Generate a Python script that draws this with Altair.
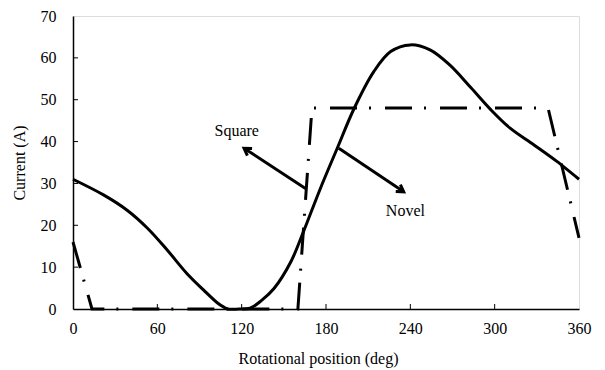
import altair as alt
import pandas as pd

# Novel current waveform (deg, A)
novel_deg = [0, 22, 38.5, 53, 67, 81, 93, 102.6, 107, 110, 118, 126, 134, 143, 155, 164, 176, 188, 200, 214, 226, 240,
             254, 268, 283, 297, 311, 328, 344.5, 360]
novel_amp = [31.0, 27.2, 23.6, 19.3, 14.1, 8.5, 4.5, 1.5, 0.5, 0.0, 0.0, 0.2, 2.0, 4.9, 11.3, 18.5, 28.8, 38.4, 47.9,
             56.7, 61.5, 63.1, 61.9, 58.3, 52.9, 47.7, 43.2, 39.2, 35.2, 31.0]

# Square current waveform (deg, A)
square_deg = [0, 13.5, 160, 170, 338, 360]
square_amp = [16.0, 0.0, 0.0, 48.0, 48.0, 17.0]

# Annotations: label, text position, arrow tail, arrow tip
ann_label = ["Square", "Novel"]
ann_text_deg = [116.5, 236.5]
ann_text_amp = [42.5, 23.4]
ann_tail_deg = [165.4, 189.1]
ann_tail_amp = [28.8, 38.4]
ann_tip_deg = [121.7, 235.3]
ann_tip_amp = [38.4, 28.0]
ann_angle = [213.7, 33.7]

x_ticks = [0, 60, 120, 180, 240, 300, 360]
y_ticks = [0, 10, 20, 30, 40, 50, 60, 70]

FONT = "Liberation Serif"
W, H = 506, 293

novel_df = pd.DataFrame({"deg": novel_deg, "amp": novel_amp})
square_df = pd.DataFrame({"deg": square_deg, "amp": square_amp})
ann_df = pd.DataFrame({
    "label": ann_label, "tx": ann_text_deg, "ty": ann_text_amp,
    "x0": ann_tail_deg, "y0": ann_tail_amp, "x1": ann_tip_deg, "y1": ann_tip_amp,
    "angle": ann_angle,
})
xt_df = pd.DataFrame({"v": x_ticks[1:-1]})
yt_df = pd.DataFrame({"v": y_ticks[1:-1]})

xscale = alt.Scale(domain=[0, 360], nice=False, zero=False)
yscale = alt.Scale(domain=[0, 70], nice=False)

x_axis = alt.Axis(values=x_ticks, title="Rotational position (deg)", grid=False, ticks=False, tickSize=0,
                  domain=True, domainColor="black", domainWidth=1.5, labelFlush=False, labelOverlap=False,
                  labelFont=FONT, labelFontSize=16, labelColor="black", labelPadding=11,
                  titleFont=FONT, titleFontSize=16, titleFontWeight="normal", titleColor="black",
                  titlePadding=14, titleX=245)
y_axis = alt.Axis(values=y_ticks, title="Current (A)", grid=False, ticks=False, tickSize=0,
                  domain=True, domainColor="black", domainWidth=1.5, labelFlush=False, labelOverlap=False,
                  labelFont=FONT, labelFontSize=16, labelColor="black", labelPadding=17,
                  titleFont=FONT, titleFontSize=16, titleFontWeight="normal", titleColor="black",
                  titlePadding=13)

novel = alt.Chart(novel_df).mark_line(color="black", strokeWidth=3, interpolate="catmull-rom").encode(
    x=alt.X("deg:Q", scale=xscale, axis=x_axis),
    y=alt.Y("amp:Q", scale=yscale, axis=y_axis),
)

square = alt.Chart(square_df).mark_line(color="black", strokeWidth=3, strokeDash=[27, 12, 2, 14],
                                        strokeCap="butt").encode(
    x=alt.X("deg:Q", scale=xscale),
    y=alt.Y("amp:Q", scale=yscale),
)

xticks = alt.Chart(xt_df).mark_rule(color="black", strokeWidth=1).encode(
    x=alt.X("v:Q", scale=xscale), y=alt.value(H), y2=alt.value(H - 5)
)
yticks = alt.Chart(yt_df).mark_rule(color="black", strokeWidth=1).encode(
    y=alt.Y("v:Q", scale=yscale), x=alt.value(0), x2=alt.value(5)
)

shafts = alt.Chart(ann_df).mark_rule(color="black", strokeWidth=3).encode(
    x=alt.X("x0:Q", scale=xscale), y=alt.Y("y0:Q", scale=yscale),
    x2="x1:Q", y2="y1:Q",
)
heads = alt.Chart(ann_df).mark_point(
    shape="M -1.3 -0.8 L 0 0 L -1.3 0.8", filled=False, color="black", strokeWidth=3, size=110,
    opacity=1, strokeJoin="miter",
).encode(
    x=alt.X("x1:Q", scale=xscale), y=alt.Y("y1:Q", scale=yscale), angle=alt.Angle("angle:Q", scale=None)
)
labels = alt.Chart(ann_df).mark_text(font=FONT, fontSize=16, color="black").encode(
    x=alt.X("tx:Q", scale=xscale), y=alt.Y("ty:Q", scale=yscale), text="label:N"
)

chart = alt.layer(novel, square, xticks, yticks, shafts, heads, labels).properties(
    width=W, height=H,
    autosize=alt.AutoSizeParams(type="none"),
    padding={"left": 65, "top": 8, "right": 15, "bottom": 60},
).configure_view(stroke="black", strokeWidth=1.5).configure_axis(
    labelFont=FONT, titleFont=FONT
).configure(background="white", font=FONT)

chart.save("out.html", embed_options={"renderer": "svg", "actions": False})
